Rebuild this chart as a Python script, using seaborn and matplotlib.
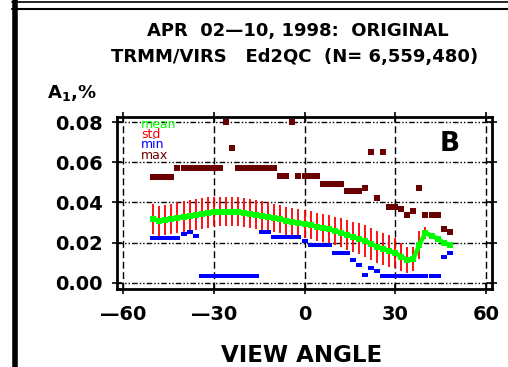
import numpy as np
import pandas as pd
import matplotlib
matplotlib.use('Agg')
import matplotlib.pyplot as plt
import seaborn as sns
from matplotlib.lines import Line2D

# view angle grid (deg)
angle = [-50, -48, -46, -44, -42, -40, -38, -36, -34, -32,
         -30, -28, -26, -24, -22, -20, -18, -16, -14, -12,
         -10, -8, -6, -4, -2, 0, 2, 4, 6, 8,
         10, 12, 14, 16, 18, 20, 22, 24, 26, 28,
         30, 32, 34, 36, 38, 40, 42, 44, 46, 48]

# A1 statistics, %
a1_mean = [0.032, 0.031, 0.0315, 0.032, 0.0325, 0.033, 0.0335, 0.034, 0.0345, 0.035,
           0.0355, 0.0355, 0.0355, 0.0355, 0.0355, 0.035, 0.0345, 0.034, 0.0335, 0.033,
           0.0325, 0.032, 0.031, 0.0305, 0.030, 0.0295, 0.029, 0.028, 0.0275, 0.027,
           0.026, 0.025, 0.024, 0.023, 0.022, 0.021, 0.0195, 0.018, 0.017, 0.016,
           0.015, 0.013, 0.0115, 0.012, 0.019, 0.025, 0.0235, 0.022, 0.020, 0.019]
a1_std = [0.0075, 0.0075, 0.0075, 0.0075, 0.0075, 0.0075, 0.0075, 0.0075, 0.0075, 0.0075,
          0.0072, 0.007, 0.007, 0.007, 0.007, 0.007, 0.007, 0.007, 0.007, 0.007,
          0.007, 0.007, 0.007, 0.007, 0.007, 0.007, 0.007, 0.007, 0.007, 0.007,
          0.007, 0.0072, 0.0075, 0.0075, 0.0078, 0.008, 0.008, 0.008, 0.008, 0.008,
          0.0075, 0.007, 0.0065, 0.006, 0.007, 0.003, 0.001, 0.001, 0.001, 0.001]
a1_min = [0.0225, 0.0225, 0.0225, 0.0225, 0.0225, 0.0245, 0.0255, 0.0235, 0.0035, 0.0035,
          0.0035, 0.0035, 0.0035, 0.0035, 0.0035, 0.0035, 0.0035, 0.0035, 0.0255, 0.0255,
          0.023, 0.023, 0.023, 0.023, 0.023, 0.021, 0.019, 0.019, 0.019, 0.019,
          0.015, 0.015, 0.015, 0.0115, 0.009, 0.004, 0.0075, 0.006, 0.0035, 0.0035,
          0.0035, 0.0035, 0.0035, 0.0035, 0.0035, 0.0035, 0.0035, 0.0035, 0.013, 0.015]
a1_max = [0.0525, 0.0525, 0.0525, 0.0525, 0.057, 0.057, 0.057, 0.057, 0.057, 0.057,
          0.057, 0.057, 0.080, 0.067, 0.057, 0.057, 0.057, 0.057, 0.057, 0.057,
          0.057, 0.053, 0.053, 0.080, 0.053, 0.053, 0.053, 0.053, 0.049, 0.049,
          0.049, 0.049, 0.0455, 0.0455, 0.0455, 0.047, 0.065, 0.042, 0.065, 0.038,
          0.038, 0.037, 0.034, 0.036, 0.047, 0.034, 0.034, 0.034, 0.027, 0.0255]

xticks = [-60, -30, 0, 30, 60]
xticklabels = ['\u201460', '\u201430', '0', '30', '60']
yticks = [0.00, 0.02, 0.04, 0.06, 0.08]
yticklabels = ['0.00', '0.02', '0.04', '0.06', '0.08']

df = pd.DataFrame({'angle': angle, 'mean': a1_mean, 'std': a1_std,
                   'min': a1_min, 'max': a1_max})

c_mean = '#00ff00'
c_std = '#ff0000'
c_min = '#0000ff'
c_max = '#6b0000'

# wide-ish rectangles so neighbouring points merge into bars
rect_min = [(-1, -0.62), (1, -0.62), (1, 0.62), (-1, 0.62), (-1, -0.62)]
rect_max = [(-1, -0.85), (1, -0.85), (1, 0.85), (-1, 0.85), (-1, -0.85)]

sns.set_style('ticks')
plt.rcParams['font.family'] = ['DejaVu Sans']
plt.rcParams['text.color'] = 'black'
plt.rcParams['xtick.color'] = 'black'
plt.rcParams['ytick.color'] = 'black'
plt.rcParams['xtick.labelcolor'] = 'black'
plt.rcParams['ytick.labelcolor'] = 'black'

fig = plt.figure(figsize=(5.08, 3.67), dpi=100)
ax = fig.add_axes([117/508, 1-289/367, 375/508, 172/367])

# std bars
ax.vlines(df['angle'], df['mean']-df['std'], df['mean']+df['std'], color=c_std, lw=1.3, zorder=3)
# mean
sns.lineplot(data=df, x='angle', y='mean', color=c_mean, lw=3.2, marker='s', markersize=4,
             markeredgewidth=0, ax=ax, zorder=4)
# min / max
sns.scatterplot(data=df, x='angle', y='min', color=c_min, marker=rect_min, s=22, linewidth=0, ax=ax, zorder=4)
sns.scatterplot(data=df, x='angle', y='max', color=c_max, marker=rect_max, s=22, linewidth=0, ax=ax, zorder=4)

ax.set_xlim(-62, 62)
ax.set_ylim(-0.003, 0.0825)
ax.set_xticks(xticks)
ax.set_yticks(yticks)
ax.set_xticklabels(xticklabels)
ax.set_yticklabels(yticklabels)
ax.set_xlabel('')
ax.set_ylabel('')
ax.tick_params(direction='inout', length=7, width=1.2, top=True, right=True, labelsize=14)
ax.tick_params(axis='x', pad=8)
ax.tick_params(axis='y', pad=6.5)
for lab in ax.get_xticklabels() + ax.get_yticklabels():
    lab.set_fontweight('bold')
for sp in ax.spines.values():
    sp.set_linewidth(2)
    sp.set_color('black')

# grid
ax.xaxis.grid(True, linestyle=(0, (5, 2.5)), color='black', lw=1)
ax.yaxis.grid(True, linestyle=(0, (4, 1.5, 1, 1.5, 1, 1.5)), color='black', lw=1)
ax.set_axisbelow(True)

# legend text
ax.text(-54, 0.0790, 'mean', color=c_mean, fontsize=9, va='center', ha='left')
ax.text(-54, 0.0740, 'std', color=c_std, fontsize=9, va='center', ha='left')
ax.text(-54, 0.0687, 'min', color=c_min, fontsize=9, va='center', ha='left')
ax.text(-54, 0.0635, 'max', color=c_max, fontsize=9, va='center', ha='left')
ax.text(48, 0.069, 'B', fontsize=19, fontweight='bold', ha='center', va='center')

# titles and labels
fig.text(298/508, 1-31/367, 'APR  02\u201410, 1998:  ORIGINAL', fontsize=13,
         fontweight='bold', ha='center', va='center')
fig.text(295/508, 1-57/367, 'TRMM/VIRS   Ed2QC  (N= 6,559,480)', fontsize=13,
         fontweight='bold', ha='center', va='center')
fig.text(47/508, 1-93/367, r'A$_{\mathbf{1}}$,%', fontsize=13, fontweight='bold',
         ha='left', va='center')
fig.text(302/508, 1-356/367, 'VIEW ANGLE', fontsize=16.5, fontweight='bold',
         ha='center', va='center')

# page frame
fig.add_artist(Line2D([14.5/508, 14.5/508], [0, 1], transform=fig.transFigure, color='black', lw=4))
fig.add_artist(Line2D([12/508, 1], [1-2/367, 1-2/367], transform=fig.transFigure, color='black', lw=1.2))
fig.add_artist(Line2D([12/508, 1], [1-9/367, 1-9/367], transform=fig.transFigure, color='black', lw=1.5))

fig.savefig('out.png', dpi=100)
